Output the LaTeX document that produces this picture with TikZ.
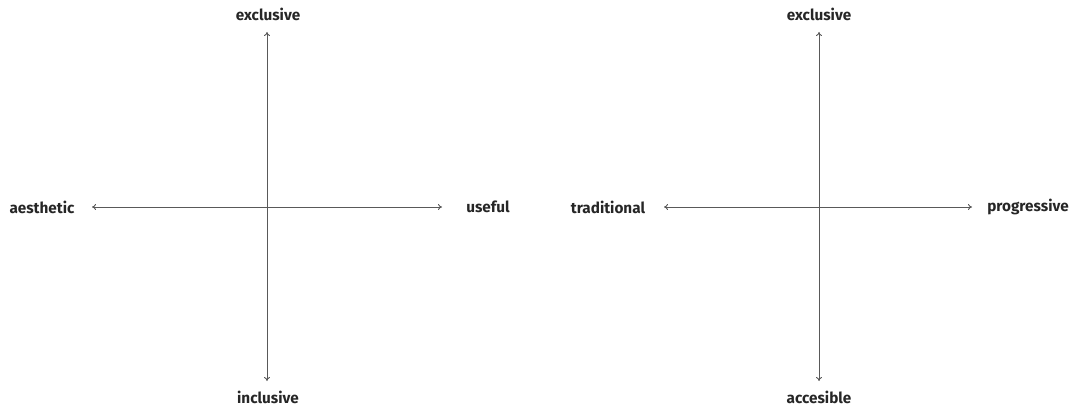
\documentclass[tikz,border=0pt]{standalone}
\usepackage{fontspec}
\setmainfont{Fira Sans}
\usetikzlibrary{arrows.meta}
\begin{document}
\begin{tikzpicture}[x=1pt,y=-1pt,
  axis/.style={draw=black!65, line width=0.9pt, {To[length=4pt,width=6pt]}-{To[length=4pt,width=6pt]}},
  lbl/.style={font=\fontsize{15.3}{17}\selectfont\bfseries, text=black!85, inner sep=0pt}]
\useasboundingbox (0,0) rectangle (1083,409);
% left diagram
\node[lbl] (lt) at (268,14) {exclusive};
\node[lbl] (lb) at (268,397) {inclusive};
\node[lbl] (ll) at (42,207) {aesthetic};
\node[lbl] (lr) at (488,207) {useful};
\coordinate (lvt) at (267,32);
\coordinate (lvb) at (267,381);
\coordinate (lhl) at (92,207);
\coordinate (lhr) at (442,207);
\draw[axis] (lvt) -- (lvb);
\draw[axis] (lhl) -- (lhr);
% right diagram
\node[lbl] (rt) at (819,14) {exclusive};
\node[lbl] (rb) at (819,397) {accesible};
\node[lbl] (rl) at (608,207) {traditional};
\node[lbl] (rr) at (1028,207) {progressive};
\coordinate (rvt) at (819,32);
\coordinate (rvb) at (819,381);
\coordinate (rhl) at (664,207);
\coordinate (rhr) at (972,207);
\draw[axis] (rvt) -- (rvb);
\draw[axis] (rhl) -- (rhr);
\end{tikzpicture}
\end{document}
